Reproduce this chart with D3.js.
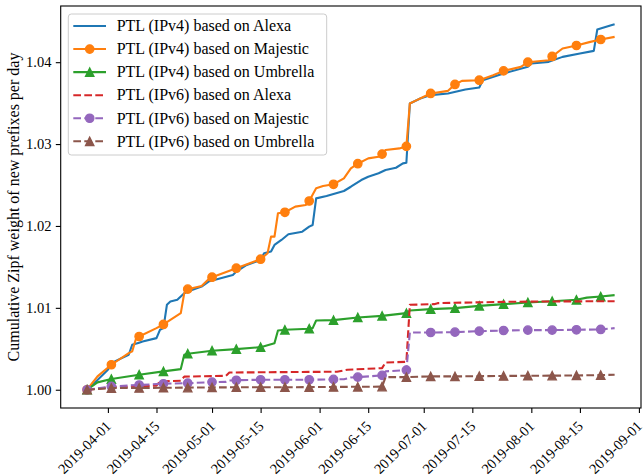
<!DOCTYPE html>
<html lang="en">
<head>
<meta charset="UTF-8" />
<title>Cumulative Zipf weight of new prefixes per day</title>
<script src="https://d3js.org/d3.v7.min.js"></script>
<style>
  body { margin: 0; background: #fff; }
  svg text { font-family: "Liberation Serif", "Times New Roman", serif; fill: #000; }
  .tick line { stroke: #000; stroke-width: 1.1px; }
  .frame { fill: none; stroke: #000; stroke-width: 1.1px; }
  .series { fill: none; stroke-width: 2.1px; stroke-linejoin: round; }
</style>
</head>
<body>
<script>
// dates on which the marker of a series is drawn
const markerDates = ["2019-03-26", "2019-04-02", "2019-04-10", "2019-04-17", "2019-04-24",
  "2019-05-01", "2019-05-08", "2019-05-15", "2019-05-22", "2019-05-29", "2019-06-05",
  "2019-06-12", "2019-06-19", "2019-06-26", "2019-07-03", "2019-07-10", "2019-07-17",
  "2019-07-24", "2019-07-31", "2019-08-07", "2019-08-14", "2019-08-21"];

const ipv4Alexa = [
  ["2019-03-26", 1.0000], ["2019-03-29", 1.0012], ["2019-04-01", 1.00244], ["2019-04-02", 1.00305],
  ["2019-04-03", 1.00346], ["2019-04-07", 1.00427], ["2019-04-08", 1.00549], ["2019-04-10", 1.00575],
  ["2019-04-11", 1.00589], ["2019-04-15", 1.0063], ["2019-04-16", 1.00732], ["2019-04-17", 1.00752],
  ["2019-04-18", 1.01037], ["2019-04-19", 1.01077], ["2019-04-21", 1.01098], ["2019-04-23", 1.01179],
  ["2019-04-24", 1.01199], ["2019-04-28", 1.0126], ["2019-04-30", 1.01321], ["2019-05-07", 1.01402],
  ["2019-05-08", 1.01443], ["2019-05-11", 1.01524], ["2019-05-15", 1.01585], ["2019-05-16", 1.01667],
  ["2019-05-18", 1.01687], ["2019-05-19", 1.01768], ["2019-05-21", 1.01829], ["2019-05-23", 1.01898],
  ["2019-05-27", 1.0193], ["2019-05-29", 1.01992], ["2019-05-30", 1.02012], ["2019-05-31", 1.02337],
  ["2019-06-03", 1.02366], ["2019-06-08", 1.02427], ["2019-06-10", 1.02479], ["2019-06-13", 1.02561],
  ["2019-06-15", 1.02601], ["2019-06-18", 1.02643], ["2019-06-20", 1.02683], ["2019-06-23", 1.02711],
  ["2019-06-25", 1.02764], ["2019-06-26", 1.02772], ["2019-06-27", 1.03496], ["2019-06-30", 1.03557],
  ["2019-07-03", 1.03598], ["2019-07-08", 1.03618], ["2019-07-13", 1.03667], ["2019-07-17", 1.03691],
  ["2019-07-18", 1.0378], ["2019-07-24", 1.03862], ["2019-07-31", 1.03943], ["2019-08-01", 1.03984],
  ["2019-08-06", 1.04004], ["2019-08-10", 1.04065], ["2019-08-15", 1.04105], ["2019-08-19", 1.04138],
  ["2019-08-20", 1.04398], ["2019-08-24", 1.04451], ["2019-08-25", 1.04463]
];

const ipv4Majestic = [
  ["2019-03-26", 1.0000], ["2019-03-29", 1.00163], ["2019-04-02", 1.00305], ["2019-04-07", 1.00447],
  ["2019-04-08", 1.00468], ["2019-04-09", 1.0061], ["2019-04-10", 1.0065], ["2019-04-15", 1.00752],
  ["2019-04-17", 1.00797], ["2019-04-19", 1.00854], ["2019-04-22", 1.00935], ["2019-04-23", 1.0118],
  ["2019-04-24", 1.01228], ["2019-04-28", 1.01268], ["2019-04-30", 1.0135], ["2019-05-01", 1.01374],
  ["2019-05-08", 1.01484], ["2019-05-15", 1.01594], ["2019-05-17", 1.01667], ["2019-05-18", 1.0187],
  ["2019-05-19", 1.0187], ["2019-05-20", 1.02155], ["2019-05-22", 1.02167], ["2019-05-25", 1.02236],
  ["2019-05-28", 1.02256], ["2019-05-29", 1.02305], ["2019-05-31", 1.0246], ["2019-06-02", 1.02488],
  ["2019-06-05", 1.02509], ["2019-06-08", 1.02581], ["2019-06-10", 1.02703], ["2019-06-12", 1.0276],
  ["2019-06-15", 1.02825], ["2019-06-18", 1.02846], ["2019-06-19", 1.02878], ["2019-06-20", 1.02927],
  ["2019-06-24", 1.02947], ["2019-06-26", 1.02972], ["2019-06-27", 1.03496], ["2019-06-29", 1.03537],
  ["2019-07-01", 1.03577], ["2019-07-03", 1.03618], ["2019-07-08", 1.0365], ["2019-07-10", 1.03728],
  ["2019-07-12", 1.03772], ["2019-07-17", 1.0378], ["2019-07-21", 1.03841], ["2019-07-24", 1.03894],
  ["2019-07-29", 1.03943], ["2019-07-31", 1.04], ["2019-08-06", 1.04024], ["2019-08-07", 1.0407],
  ["2019-08-10", 1.04167], ["2019-08-14", 1.04204], ["2019-08-18", 1.04248], ["2019-08-21", 1.04277],
  ["2019-08-25", 1.04309]
];

const ipv4Umbrella = [
  ["2019-03-26", 1.0000], ["2019-03-29", 1.0009], ["2019-04-02", 1.0013], ["2019-04-10", 1.00183],
  ["2019-04-17", 1.00224], ["2019-04-22", 1.00252], ["2019-04-23", 1.00427], ["2019-04-24", 1.0044],
  ["2019-05-01", 1.00476], ["2019-05-08", 1.00496], ["2019-05-15", 1.0052], ["2019-05-19", 1.00569],
  ["2019-05-20", 1.00723], ["2019-05-22", 1.00732], ["2019-05-29", 1.00745], ["2019-05-30", 1.00752],
  ["2019-05-31", 1.00845], ["2019-06-05", 1.0085], ["2019-06-12", 1.00882], ["2019-06-19", 1.00902],
  ["2019-06-26", 1.00935], ["2019-06-27", 1.00967], ["2019-07-03", 1.00984], ["2019-07-10", 1.00996],
  ["2019-07-17", 1.01024], ["2019-07-24", 1.01045], ["2019-07-31", 1.01065], ["2019-08-07", 1.01081],
  ["2019-08-14", 1.01098], ["2019-08-17", 1.01125], ["2019-08-21", 1.01138], ["2019-08-25", 1.01155]
];

const ipv6Alexa = [
  ["2019-03-26", 1.0000], ["2019-04-02", 1.0003], ["2019-04-10", 1.0004], ["2019-04-15", 1.0005],
  ["2019-04-16", 1.0010], ["2019-04-22", 1.0011], ["2019-04-23", 1.0016], ["2019-05-05", 1.0017],
  ["2019-05-06", 1.0021], ["2019-06-06", 1.0022], ["2019-06-09", 1.00244], ["2019-06-19", 1.00264],
  ["2019-06-20", 1.00333], ["2019-06-26", 1.0034], ["2019-06-27", 1.01037], ["2019-07-04", 1.01045],
  ["2019-07-05", 1.01057], ["2019-07-10", 1.01062], ["2019-07-24", 1.01073], ["2019-08-07", 1.01078],
  ["2019-08-25", 1.01081]
];

const ipv6Majestic = [
  ["2019-03-26", 1.0000], ["2019-04-02", 1.0004], ["2019-04-10", 1.00058], ["2019-04-17", 1.00073],
  ["2019-04-24", 1.0008], ["2019-05-01", 1.00093], ["2019-05-05", 1.00096], ["2019-05-06", 1.00112],
  ["2019-05-08", 1.00116], ["2019-05-15", 1.00122], ["2019-05-22", 1.00122], ["2019-05-29", 1.00122],
  ["2019-06-05", 1.00126], ["2019-06-08", 1.00128], ["2019-06-10", 1.0015], ["2019-06-12", 1.00154],
  ["2019-06-19", 1.00175], ["2019-06-20", 1.00224], ["2019-06-26", 1.0024], ["2019-06-27", 1.00699],
  ["2019-07-03", 1.00699], ["2019-07-10", 1.00703], ["2019-07-17", 1.00715], ["2019-07-24", 1.00723],
  ["2019-07-31", 1.00728], ["2019-08-07", 1.00728], ["2019-08-14", 1.00732], ["2019-08-21", 1.00736],
  ["2019-08-25", 1.00752]
];

const ipv6Umbrella = [
  ["2019-03-26", 1.0000], ["2019-04-02", 1.0002], ["2019-04-10", 1.00022], ["2019-04-17", 1.00024],
  ["2019-04-24", 1.00026], ["2019-05-01", 1.00028], ["2019-05-08", 1.0003], ["2019-05-15", 1.0003],
  ["2019-05-22", 1.0003], ["2019-05-29", 1.00032], ["2019-06-05", 1.00034], ["2019-06-12", 1.00036],
  ["2019-06-19", 1.00038], ["2019-06-20", 1.00154], ["2019-06-26", 1.00154], ["2019-07-03", 1.00163],
  ["2019-07-10", 1.00163], ["2019-07-17", 1.00165], ["2019-07-24", 1.00168], ["2019-07-31", 1.00171],
  ["2019-08-07", 1.00172], ["2019-08-14", 1.00174], ["2019-08-21", 1.00179], ["2019-08-25", 1.00183]
];

const seriesLabels = [
  "PTL (IPv4) based on Alexa", "PTL (IPv4) based on Majestic", "PTL (IPv4) based on Umbrella",
  "PTL (IPv6) based on Alexa", "PTL (IPv6) based on Majestic", "PTL (IPv6) based on Umbrella"
];

const xTickLabels = ["2019-04-01", "2019-04-15", "2019-05-01", "2019-05-15", "2019-06-01", "2019-06-15",
  "2019-07-01", "2019-07-15", "2019-08-01", "2019-08-15", "2019-09-01"];
const yTickValues = [1.00, 1.01, 1.02, 1.03, 1.04];
const yLabel = "Cumulative Zipf weight of new prefixes per day";

// looks of each series, in the same order as the labels
const styles = [
  { color: "#1f77b4", dash: null, marker: null },
  { color: "#ff7f0e", dash: null, marker: "circle" },
  { color: "#2ca02c", dash: null, marker: "triangle" },
  { color: "#d62728", dash: "7.7,3.3", marker: null },
  { color: "#9467bd", dash: "7.7,3.3", marker: "circle" },
  { color: "#8c564b", dash: "7.7,3.3", marker: "triangle" }
];

const width = 644;
const height = 476;
const margin = { top: 6, right: 3, bottom: 68, left: 60.7 };
const plotW = width - margin.left - margin.right;
const plotH = height - margin.top - margin.bottom;

const parse = d3.utcParse("%Y-%m-%d");
const series = [ipv4Alexa, ipv4Majestic, ipv4Umbrella, ipv6Alexa, ipv6Majestic, ipv6Umbrella]
  .map(s => s.map(([d, v]) => ({ key: d, date: parse(d), value: v })));
const markerSet = new Set(markerDates);

// 5% padding on both axes, like the default autoscale
const allPts = series.flat();
const [x0, x1] = d3.extent(allPts, d => d.date);
const xPad = (x1 - x0) * 0.05;
const [y0, y1] = d3.extent(allPts, d => d.value);
const yPad = (y1 - y0) * 0.05;

const x = d3.scaleUtc()
  .domain([new Date(+x0 - xPad), new Date(+x1 + xPad)])
  .range([0, plotW]);
const y = d3.scaleLinear()
  .domain([y0 - yPad, y1 + yPad])
  .range([plotH, 0]);

const svg = d3.select("body").append("svg")
  .attr("width", width)
  .attr("height", height);

const chart = svg.append("g")
  .attr("transform", `translate(${margin.left},${margin.top})`);

// x axis, labels turned by 45 degrees
const xAxis = chart.append("g")
  .attr("transform", `translate(0,${plotH})`)
  .call(d3.axisBottom(x)
    .tickValues(xTickLabels.map(parse))
    .tickFormat(d3.utcFormat("%Y-%m-%d"))
    .tickSize(4.9)
    .tickSizeOuter(0));
xAxis.select(".domain").remove();
xAxis.selectAll("text")
  .attr("x", 0).attr("y", 0).attr("dy", 0)
  .attr("text-anchor", "end")
  .attr("font-size", 14.5)
  .attr("transform", "translate(3.5,19) rotate(-45)");

// y axis
const yAxis = chart.append("g")
  .call(d3.axisLeft(y)
    .tickValues(yTickValues)
    .tickFormat(d3.format(".2f"))
    .tickSize(4.9)
    .tickPadding(4.4)
    .tickSizeOuter(0));
yAxis.select(".domain").remove();
yAxis.selectAll("text").attr("font-size", 14.5);

svg.append("text")
  .attr("transform", `translate(18.5,${margin.top + plotH / 2}) rotate(-90)`)
  .attr("text-anchor", "middle")
  .attr("font-size", 16)
  .text(yLabel);

function drawMarker(g, type, cx, cy, color) {
  if (type === "circle") {
    g.append("circle")
      .attr("cx", cx).attr("cy", cy).attr("r", 4.2)
      .attr("fill", color).attr("stroke", color).attr("stroke-width", 1.3);
  } else if (type === "triangle") {
    const s = 4.2;
    g.append("path")
      .attr("d", `M${cx},${cy - s}L${cx - s},${cy + s}L${cx + s},${cy + s}Z`)
      .attr("fill", color).attr("stroke", color).attr("stroke-width", 1.3)
      .attr("stroke-linejoin", "miter");
  }
}

const line = d3.line()
  .x(d => x(d.date))
  .y(d => y(d.value));

series.forEach((pts, i) => {
  const st = styles[i];
  const g = chart.append("g");
  g.append("path")
    .datum(pts)
    .attr("class", "series")
    .attr("stroke", st.color)
    .attr("stroke-dasharray", st.dash)
    .attr("d", line);
  if (st.marker) {
    pts.filter(d => markerSet.has(d.key))
      .forEach(d => drawMarker(g, st.marker, x(d.date), y(d.value), st.color));
  }
});

// frame around the plot
chart.append("rect")
  .attr("class", "frame")
  .attr("width", plotW)
  .attr("height", plotH);

// legend in the upper left corner
const legend = svg.append("g").attr("transform", "translate(68.3,14)");
legend.append("rect")
  .attr("width", 258.4).attr("height", 141)
  .attr("rx", 3)
  .attr("fill", "#fff").attr("fill-opacity", 0.8)
  .attr("stroke", "#cccccc").attr("stroke-width", 1);

seriesLabels.forEach((label, i) => {
  const st = styles[i];
  const ry = 12 + i * 23.06;
  legend.append("line")
    .attr("x1", 5).attr("x2", 37.7)
    .attr("y1", ry).attr("y2", ry)
    .attr("stroke", st.color).attr("stroke-width", 2.1)
    .attr("stroke-dasharray", st.dash);
  if (st.marker) drawMarker(legend, st.marker, 21.4, ry, st.color);
  legend.append("text")
    .attr("x", 48.4).attr("y", ry + 5.3)
    .attr("font-size", 16)
    .text(label);
});
</script>
</body>
</html>
